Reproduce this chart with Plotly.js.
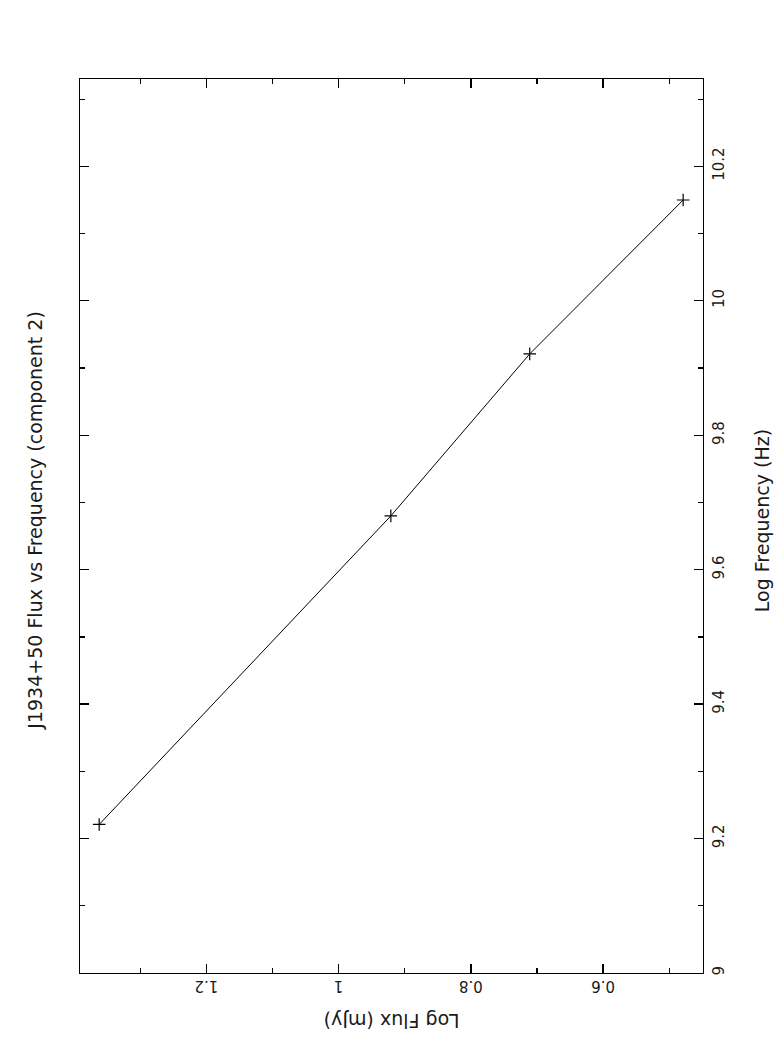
<!DOCTYPE html>
<html>
<head>
<meta charset="utf-8">
<script src="https://cdn.plot.ly/plotly-3.0.1.min.js"></script>
<style>html,body{margin:0;padding:0;background:#fff;}#plot{width:782px;height:1051px;}</style>
</head>
<body>
<div id="plot"></div>
<script>
// Data (log10 values)
const logFrequency = [9.221, 9.680, 9.921, 10.150];
const logFlux = [1.362, 0.921, 0.711, 0.479];

const chartTitle = "J1934+50 Flux vs Frequency (component 2)";
const freqTitle = "Log Frequency (Hz)";
const fluxTitle = "Log Flux (mJy)";

const fnt = {family: "DejaVu Sans, sans-serif", color: "#1a1a1a"};

const trace = {
  x: logFlux,
  y: logFrequency,
  mode: "lines+markers",
  line: {color: "#000", width: 1},
  marker: {symbol: "cross-thin", size: 9, color: "#000", line: {color: "#000", width: 1.2}},
  hoverinfo: "skip"
};

const layout = {
  width: 782, height: 1051,
  margin: {l: 80, r: 79, t: 79, b: 78, pad: 0},
  paper_bgcolor: "#fff", plot_bgcolor: "#fff",
  showlegend: false,
  xaxis: {
    range: [1.391, 0.449],
    side: "bottom",
    showgrid: false, zeroline: false,
    showline: true, linecolor: "#000", linewidth: 1.3,
    mirror: "allticks",
    ticks: "inside", ticklen: 9, tickwidth: 1.3, tickcolor: "#000",
    tick0: 0, dtick: 0.2,
    tickangle: 180,
    ticklabelstandoff: 4,
    tickfont: Object.assign({size: 15}, fnt),
    minor: {dtick: 0.1, ticks: "inside", ticklen: 5, tickwidth: 1.3, tickcolor: "#000", showgrid: false}
  },
  yaxis: {
    range: [9.0, 10.330],
    side: "right",
    showgrid: false, zeroline: false,
    showline: true, linecolor: "#000", linewidth: 1.3,
    mirror: "allticks",
    ticks: "inside", ticklen: 9, tickwidth: 1.3, tickcolor: "#000",
    tick0: 0, dtick: 0.2,
    tickangle: -90,
    ticklabelstandoff: 2,
    tickfont: Object.assign({size: 15}, fnt),
    minor: {dtick: 0.1, ticks: "inside", ticklen: 5, tickwidth: 1.3, tickcolor: "#000", showgrid: false}
  },
  annotations: [
    {text: chartTitle, xref: "paper", yref: "paper", x: -0.0722, y: 0.506,
     textangle: -90, showarrow: false, xanchor: "center", yanchor: "middle",
     font: Object.assign({size: 19}, fnt)},
    {text: freqTitle, xref: "paper", yref: "paper", x: 1.094, y: 0.506,
     textangle: -90, showarrow: false, xanchor: "center", yanchor: "middle",
     font: Object.assign({size: 19}, fnt)},
    {text: fluxTitle, xref: "paper", yref: "paper", x: 0.4995, y: -0.0545,
     textangle: 180, showarrow: false, xanchor: "center", yanchor: "middle",
     font: Object.assign({size: 19}, fnt)}
  ]
};

Plotly.newPlot("plot", [trace], layout, {displayModeBar: false, staticPlot: true});
</script>
</body>
</html>
